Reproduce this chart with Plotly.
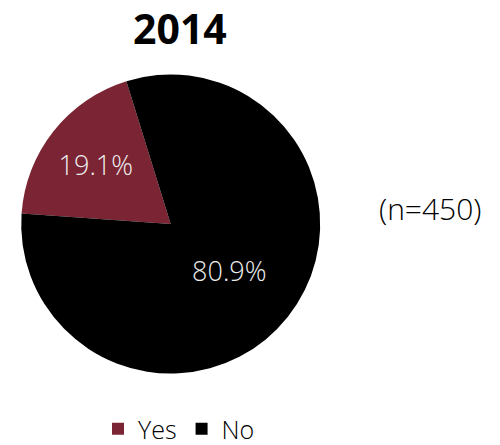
import plotly.graph_objects as go

# Survey answers for 2014 (share of respondents, %)
labels = ["Yes", "No"]
shares = [19.1, 80.9]
colors = ["#7B2434", "#000000"]
title_text = "2014"
sample_note = "(n=450)"

W, H = 500, 445
FONT = "Open Sans"

fig = go.Figure(
    go.Pie(
        labels=labels,
        values=shares,
        sort=False,
        direction="clockwise",
        rotation=-86,
        marker=dict(colors=colors, line=dict(width=0)),
        texttemplate="%{percent:.1%}",
        textposition="inside",
        insidetextorientation="horizontal",
        textfont=dict(family=FONT, size=27, color="#EDEDED", weight=300),
        hoverinfo="label+percent",
        domain=dict(x=[21.2 / W, 320.2 / W], y=[(H - 373.5) / H, (H - 74.5) / H]),
    )
)

fig.add_annotation(
    text=f"<b>{title_text}</b>",
    x=180 / W, y=1 - 28 / H, xref="paper", yref="paper",
    xanchor="center", yanchor="middle", showarrow=False,
    font=dict(family=FONT, size=41, color="#000000"),
)
fig.add_annotation(
    text=sample_note,
    x=430 / W, y=1 - 208 / H, xref="paper", yref="paper",
    xanchor="center", yanchor="middle", showarrow=False,
    font=dict(family=FONT, size=30, color="#000000", weight=300),
)

fig.update_layout(
    width=W, height=H,
    margin=dict(l=0, r=0, t=0, b=0, autoexpand=False),
    paper_bgcolor="white", plot_bgcolor="white",
    showlegend=True,
    legend=dict(
        orientation="h", x=179 / W, xanchor="center", y=1 - 429 / H, yanchor="middle",
        font=dict(family=FONT, size=25, color="#000000", weight=300),
        itemwidth=30, traceorder="normal",
    ),
)

fig.write_html("out.html")
